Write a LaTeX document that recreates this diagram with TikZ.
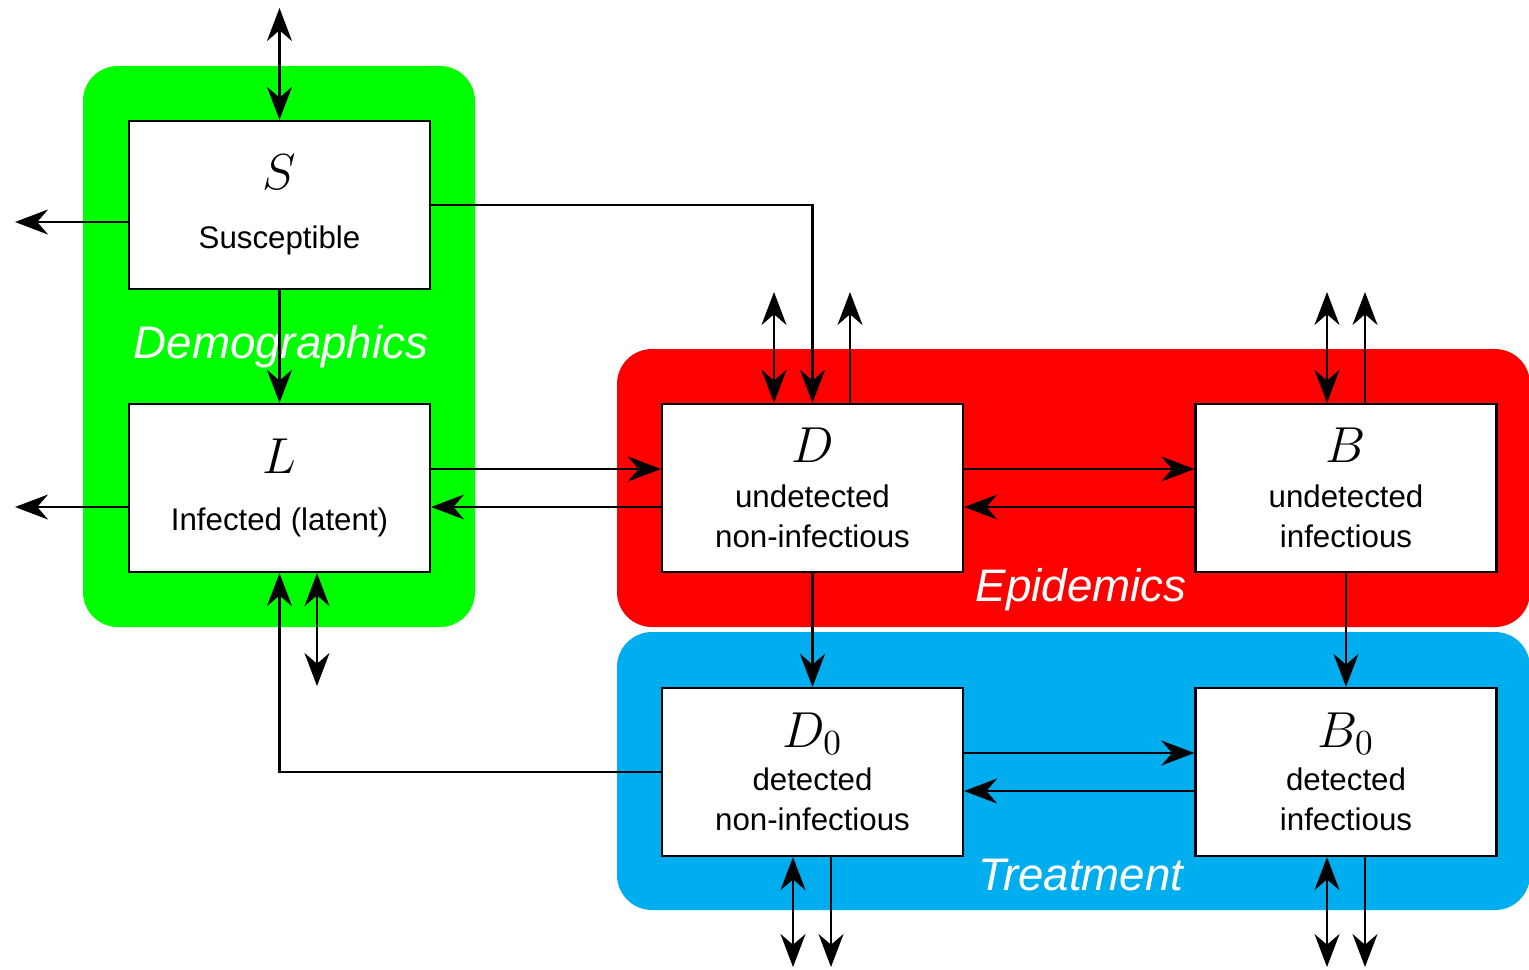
\documentclass[tikz,border=0pt]{standalone}
\usepackage[no-math]{fontspec}
\setmainfont{Liberation Sans}
\usetikzlibrary{arrows.meta}

\definecolor{demogreen}{RGB}{0,255,0}
\definecolor{epired}{RGB}{255,0,0}
\definecolor{treatblue}{RGB}{0,174,239}

\newcommand{\compsym}[1]{{\fontsize{14}{14}\selectfont$#1$}}

\tikzset{
  compartment/.style={draw, line width=0.65pt, fill=white, minimum width=3.01cm,
    minimum height=1.68cm, align=center, inner sep=0pt,
    font=\fontsize{8.9}{11.4}\selectfont},
  region/.style={rounded corners=0.35cm},
  regionlabel/.style={text=white, font=\fontsize{13}{15}\selectfont\itshape},
  flow/.style={line width=0.65pt, -{Stealth[length=3.3mm, width=2.5mm]}},
  flowboth/.style={line width=0.65pt, {Stealth[length=3.3mm, width=2.5mm]}-{Stealth[length=3.3mm, width=2.5mm]}}
}

\begin{document}
\begin{tikzpicture}
  \useasboundingbox (0,0) rectangle (15.29,-9.69);

  % coloured regions
  \fill[demogreen, region] (0.83,-0.66) rectangle (4.75,-6.27);
  \fill[epired, region] (6.17,-3.49) rectangle (15.30,-6.27);
  \fill[treatblue, region] (6.17,-6.32) rectangle (15.30,-9.10);

  \node[regionlabel] (demolabel) at (2.81,-3.47) {Demographics};
  \node[regionlabel] (epilabel) at (10.81,-5.90) {Epidemics};
  \node[regionlabel] (treatlabel) at (10.81,-8.75) {Treatment};

  % compartments
  \node[compartment] (S) at (2.795,-2.05) {\compsym{S}\\[5.3pt] Susceptible};
  \node[compartment] (L) at (2.795,-4.88) {\compsym{L}\\[5pt] Infected (latent)};
  \node[compartment] (D) at (8.125,-4.88) {\compsym{D}\\[1.4pt] undetected\\ non-infectious};
  \node[compartment] (B) at (13.46,-4.88) {\compsym{B}\\[1.4pt] undetected\\ infectious};
  \node[compartment] (D0) at (8.125,-7.72) {\compsym{D_0}\\[1pt] detected\\ non-infectious};
  \node[compartment] (B0) at (13.46,-7.72) {\compsym{B_0}\\[1pt] detected\\ infectious};

  % free ends
  \coordinate (sIn) at (2.795,-0.08);
  \coordinate (sOut) at (0.15,-2.22);
  \coordinate (lOut) at (0.15,-5.07);
  \coordinate (lIn) at (3.17,-6.86);
  \coordinate (dIn) at (7.74,-2.92);
  \coordinate (dOut) at (8.50,-2.92);
  \coordinate (bIn) at (13.27,-2.92);
  \coordinate (bOut) at (13.65,-2.92);
  \coordinate (dzIn) at (7.93,-9.67);
  \coordinate (dzOut) at (8.31,-9.67);
  \coordinate (bzIn) at (13.27,-9.67);
  \coordinate (bzOut) at (13.65,-9.67);

  % demographics
  \draw[flowboth] (sIn) -- (S.north);
  \draw[flow] (S.west |- sOut) -- (sOut);
  \draw[flow] (L.west |- lOut) -- (lOut);
  \draw[flow] (S) -- (L);
  \draw[flowboth] (lIn |- L.south) -- (lIn);

  % epidemics
  \draw[flow] (S.east) -| (D.north);
  \draw[flowboth] (dIn) -- (dIn |- D.north);
  \draw[flow] (dOut |- D.north) -- (dOut);
  \draw[flowboth] (bIn) -- (bIn |- B.north);
  \draw[flow] (bOut |- B.north) -- (bOut);
  \draw[flow] ([yshift=1.9mm]L.east) -- ([yshift=1.9mm]D.west);
  \draw[flow] ([yshift=-1.9mm]D.west) -- ([yshift=-1.9mm]L.east);
  \draw[flow] ([yshift=1.9mm]D.east) -- ([yshift=1.9mm]B.west);
  \draw[flow] ([yshift=-1.9mm]B.west) -- ([yshift=-1.9mm]D.east);

  % treatment
  \draw[flow] (D) -- (D0);
  \draw[flow] (B) -- (B0);
  \draw[flow] ([yshift=1.9mm]D0.east) -- ([yshift=1.9mm]B0.west);
  \draw[flow] ([yshift=-1.9mm]B0.west) -- ([yshift=-1.9mm]D0.east);
  \draw[flow] (D0.west) -| (L.south);
  \draw[flowboth] (dzIn |- D0.south) -- (dzIn);
  \draw[flow] (dzOut |- D0.south) -- (dzOut);
  \draw[flowboth] (bzIn |- B0.south) -- (bzIn);
  \draw[flow] (bzOut |- B0.south) -- (bzOut);
\end{tikzpicture}
\end{document}
